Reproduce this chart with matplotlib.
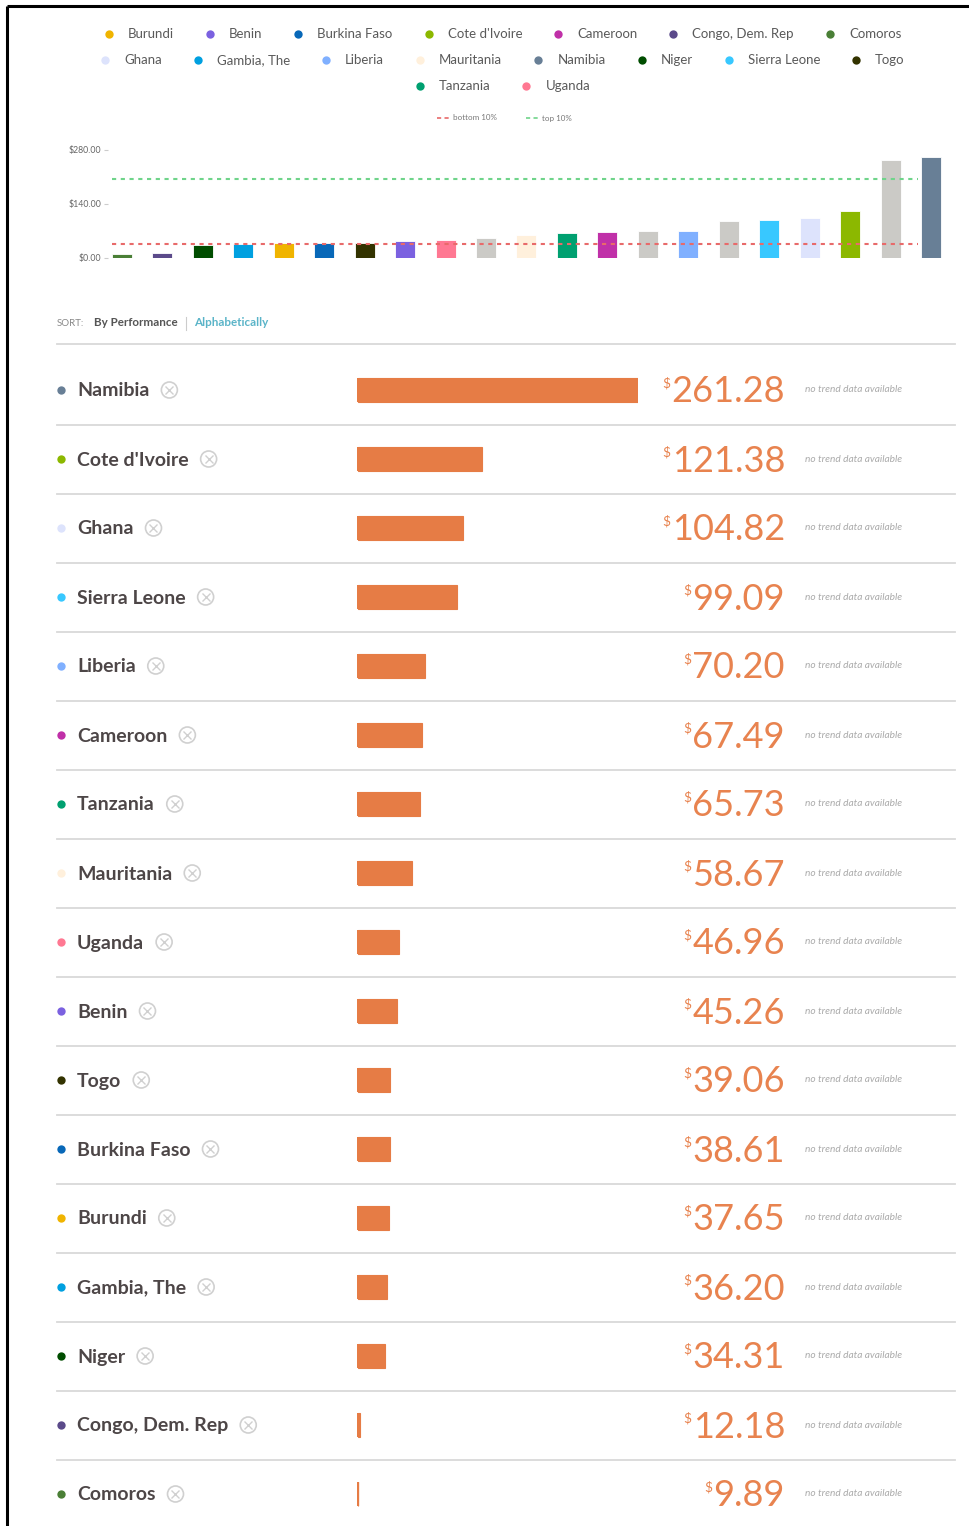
import matplotlib
matplotlib.use("Agg")
import matplotlib.pyplot as plt
from matplotlib.patches import Circle

# Data
countries = ["Namibia", "Cote d'Ivoire", "Ghana", "Sierra Leone", "Liberia",
             "Cameroon", "Tanzania", "Mauritania", "Uganda", "Benin", "Togo",
             "Burkina Faso", "Burundi", "Gambia, The", "Niger",
             "Congo, Dem. Rep", "Comoros"]
values = [261.28, 121.38, 104.82, 99.09, 70.20, 67.49, 65.73, 58.67, 46.96,
          45.26, 39.06, 38.61, 37.65, 36.20, 34.31, 12.18, 9.89]
colors = {
    "Burundi": "#f0b400", "Benin": "#7b61e0", "Burkina Faso": "#0868b8",
    "Cote d'Ivoire": "#8cb800", "Cameroon": "#c030a8",
    "Congo, Dem. Rep": "#5b4a8a", "Comoros": "#4a7f36", "Ghana": "#dde3fc",
    "Gambia, The": "#00a0e0", "Liberia": "#80b0ff", "Mauritania": "#fff0dc",
    "Namibia": "#687f96", "Niger": "#004d00", "Sierra Leone": "#38c8ff",
    "Togo": "#333300", "Tanzania": "#00a070", "Uganda": "#ff7892",
}
legend_rows = [
    ["Burundi", "Benin", "Burkina Faso", "Cote d'Ivoire", "Cameroon",
     "Congo, Dem. Rep", "Comoros"],
    ["Ghana", "Gambia, The", "Liberia", "Mauritania", "Namibia", "Niger",
     "Sierra Leone", "Togo"],
    ["Tanzania", "Uganda"],
]
# unselected countries shown grey in the overview chart
other_values = [51.0, 69.0, 95.5, 254.7]
other_color = "#cbcac6"
bottom_10 = 36.2
top_10 = 205.6
y_ticks = [0, 140, 280]

W, H = 969, 1526
fig = plt.figure(figsize=(W / 100, H / 100), dpi=100)
plt.rcParams["font.family"] = ["Lato", "DejaVu Sans"]

# full-figure canvas in pixel coords for layout pieces
cv = fig.add_axes([0, 0, 1, 1])
cv.set_xlim(0, W)
cv.set_ylim(H, 0)
cv.axis("off")
cv.set_zorder(0)

def px_axes(x0, y0, x1, y1):
    return fig.add_axes([x0 / W, 1 - y1 / H, (x1 - x0) / W, (y1 - y0) / H])

# borders
cv.plot([7, W], [6, 6], color="black", lw=2.2, solid_capstyle="butt")
cv.plot([7, 7], [6, H], color="black", lw=2.2, solid_capstyle="butt")

# ---- legend (centred flow rows)
renderer = fig.canvas.get_renderer()
text_col = "#5a5a5a"
for r, row in enumerate(legend_rows):
    y = 34 + 26 * r
    items = []
    for name in row:
        t = cv.text(0, y, name, fontsize=9.5, color=text_col, va="center", ha="left")
        w = t.get_window_extent(renderer).width
        items.append((t, w))
    total = sum(19 + w for _, w in items) + 36 * (len(items) - 1)
    x = 505 - total / 2
    for (t, w), name in zip(items, row):
        cv.plot(x, y, "o", ms=6, color=colors[name], mec="none")
        t.set_x(x + 19)
        x += 19 + w + 36

# small threshold legend
cv.plot([437, 449], [118, 118], color="#e86a6a", lw=1.2, ls=(0, (2.5, 2)))
cv.text(453, 118, "bottom 10%", fontsize=5.8, color="#777777", va="center")
cv.plot([526, 538], [118, 118], color="#6fd48a", lw=1.2, ls=(0, (2.5, 2)))
cv.text(542, 118, "top 10%", fontsize=5.8, color="#777777", va="center")

# ---- overview bar chart
pairs = [(v, colors[c]) for c, v in zip(countries, values)]
pairs += [(v, other_color) for v in other_values]
pairs.sort(key=lambda p: p[0])
ov_vals = [p[0] for p in pairs]
ov_cols = [p[1] for p in pairs]

step = (931 - 122) / (len(ov_vals) - 1)
ax0 = px_axes(108, 150, 945, 258)
ax0.bar(range(len(ov_vals)), ov_vals, width=20 / step, color=ov_cols,
        edgecolor="white", linewidth=0.6, zorder=2)
x_lo = (112 - 122) / step
x_hi = (918 - 122) / step
ax0.plot([x_lo, x_hi], [top_10, top_10], color="#6fd48a", lw=1.5,
         ls=(0, (2, 2.2)), zorder=3)
ax0.plot([x_lo, x_hi], [bottom_10, bottom_10], color="#e86a6a", lw=1.5,
         ls=(0, (2, 2.2)), zorder=3)
ax0.set_xlim(-(122 - 108) / step, len(ov_vals) - 1 + (945 - 931) / step)
ax0.set_ylim(0, 280)
ax0.set_yticks(y_ticks)
ax0.set_yticklabels(["$%.2f" % v for v in y_ticks], fontsize=6.3, color="#666666")
ax0.tick_params(axis="y", length=3, color="#cccccc", pad=2)
ax0.set_xticks([])
for s in ax0.spines.values():
    s.set_visible(False)
ax0.patch.set_alpha(0)

# ---- sort line
cv.text(57, 323, "SORT:", fontsize=7, color="#888888", va="center")
cv.text(94, 323, "By Performance", fontsize=8.4, color="#555555",
        weight="bold", va="center")
cv.plot([186, 186], [317, 330], color="#cccccc", lw=0.8)
cv.text(194, 323, "Alphabetically", fontsize=8.4, color="#5ab4c8",
        weight="bold", va="center")

# ---- ranked list
row0, pitch = 390, 69
sep_col = "#d9d9d9"
bar_col = "#e67c45"
cv.plot([57, 955], [344, 344], color=sep_col, lw=1.3)
vmin, vmax = min(values), max(values)
n = len(values)
bh = 24 / pitch

axl = px_axes(357, row0 - pitch / 2, 638, row0 + pitch * (n - 0.5))
axl.set_xlim(vmin, vmax)
axl.set_ylim(n - 0.5, -0.5)
axl.barh(range(n), [v - vmin for v in values], left=vmin, height=bh,
         color=bar_col, edgecolor=bar_col, linewidth=0.8)
# minimum visible stub at the bar origin
axl.vlines([vmin] * n, [i - bh / 2 for i in range(n)],
           [i + bh / 2 for i in range(n)], color=bar_col, lw=1.6)
axl.set_xlim(vmin - 0.5, vmax)
axl.axis("off")
axl.patch.set_alpha(0)

for i, (name, val) in enumerate(zip(countries, values)):
    y = row0 + pitch * i
    if i < n - 1:
        cv.plot([57, 955], [y + pitch / 2, y + pitch / 2], color=sep_col, lw=1.3)
    cv.plot(61, y, "o", ms=6, color=colors[name], mec="none")
    t = cv.text(77, y + 1, name, fontsize=14, weight="bold", color="#4d4647",
                va="center")
    x_end = 77 + t.get_window_extent(renderer).width
    cx = x_end + 20
    cv.add_patch(Circle((cx, y), 8, fill=False, ec="#d0d0d0", lw=1.2))
    cv.plot(cx, y, marker="x", ms=6, mew=1.0, color="#d0d0d0")
    nt = cv.text(785, y + 2, "%.2f" % val, fontsize=26, weight="normal",
                 color="#e8834f", ha="right", va="center")
    nw = nt.get_window_extent(renderer).width
    cv.text(785 - nw - 1, y - 7, "$", fontsize=10,
            color="#e8834f", ha="right", va="center")
    cv.text(805, y, "no trend data available", fontsize=7.3, style="italic",
            color="#aaaaaa", va="center")

fig.savefig("out.png", dpi=100)
